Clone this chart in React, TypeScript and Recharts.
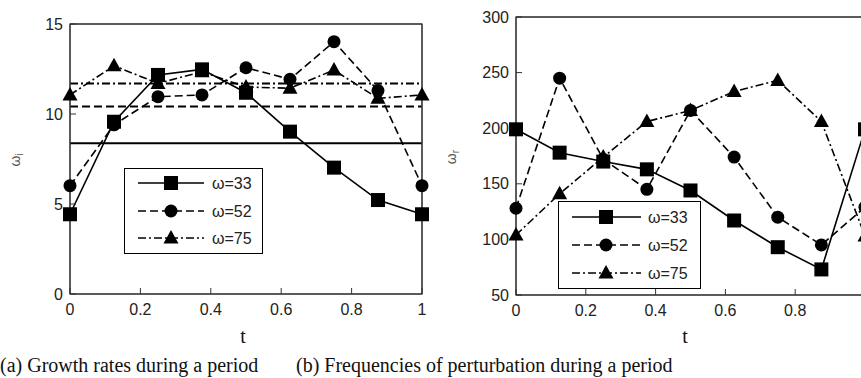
import React from 'react';
import { LineChart, Line, XAxis, YAxis, ReferenceLine, Legend } from 'recharts';

// time within one period
const tValues = [0, 0.125, 0.25, 0.375, 0.5, 0.625, 0.75, 0.875, 1];
const tTicks = [0, 0.2, 0.4, 0.6, 0.8, 1];

// (a) growth rates omega_i
const growth33 = [4.43, 9.57, 12.17, 12.48, 11.18, 9.02, 7.02, 5.22, 4.43];
const growth52 = [6.02, 9.4, 10.96, 11.06, 12.57, 11.93, 14.02, 11.3, 6.02];
const growth75 = [11.06, 12.68, 11.7, 12.35, 11.5, 11.43, 12.44, 10.87, 11.06];
const growthMeans = [8.37, 10.41, 11.7];
const growthTicks = [0, 5, 10, 15];

// (b) frequencies omega_r
const freq33 = [199, 178, 170, 163, 144, 117, 93, 73, 199];
const freq52 = [128, 245, 172, 145, 216, 174, 120, 95, 129];
const freq75 = [104, 141, 174, 206, 216, 233, 243, 206, 103];
const freqTicks = [50, 100, 150, 200, 250, 300];

const seriesNames = ['ω=33', 'ω=52', 'ω=75'];

const series = [
  { key: 's33', name: seriesNames[0], dash: undefined, shape: 'square' },
  { key: 's52', name: seriesNames[1], dash: '8 4', shape: 'circle' },
  { key: 's75', name: seriesNames[2], dash: '8 3 2 3', shape: 'triangle' },
];

const growthData = tValues.map((t, i) => ({ t, s33: growth33[i], s52: growth52[i], s75: growth75[i] }));
const freqData = tValues.map((t, i) => ({ t, s33: freq33[i], s52: freq52[i], s75: freq75[i] }));

const sansFont = 'Arial, "Liberation Sans", sans-serif';
const serifFont = '"Times New Roman", "Liberation Serif", serif';
const frame = '#333';

const Marker = ({ cx, cy, shape }: any) => {
  if (cx == null || cy == null) return null;
  if (shape === 'square') return <rect x={cx - 7} y={cy - 7} width={14} height={14} fill="#000" />;
  if (shape === 'circle') return <circle cx={cx} cy={cy} r={6.5} fill="#000" />;
  return <polygon points={`${cx},${cy - 8} ${cx - 7.5},${cy + 5.5} ${cx + 7.5},${cy + 5.5}`} fill="#000" />;
};

const LegendBox = ({ w, h, rows, x1, x2, mx, tx }: any) => (
  <svg width={w} height={h} style={{ display: 'block' }}>
    <rect x={0.5} y={0.5} width={w - 1} height={h - 1} fill="#fff" stroke="#000" />
    {series.map((s, i) => (
      <g key={s.key}>
        <line x1={x1} x2={x2} y1={rows[i]} y2={rows[i]} stroke="#000" strokeWidth={1.6} strokeDasharray={s.dash} />
        <Marker cx={mx} cy={rows[i]} shape={s.shape} />
        <text x={tx} y={rows[i]} dy="0.36em" fontFamily={sansFont} fontSize={16} fill="#222">
          {s.name}
        </text>
      </g>
    ))}
  </svg>
);

const yName = (x: number, y: number, sub: string) => () => (
  <text x={x} y={y} transform={`rotate(-90 ${x} ${y})`} textAnchor="middle" fontFamily={sansFont} fontSize={14} fill="#555">
    ω<tspan fontSize={10} dy={3}>{sub}</tspan>
  </text>
);

// x-axis title, plus the MATLAB-style box around the plot area (taken from the axis viewBox)
const xName = (x: number, y: number, plotH: number) => (props: any) => {
  const vb = props.viewBox || {};
  return (
    <g>
      {vb.width != null && (
        <rect x={vb.x} y={vb.y - plotH} width={vb.width} height={plotH} fill="none" stroke={frame} strokeWidth={1.2} />
      )}
      <text x={x} y={y} textAnchor="middle" fontFamily={serifFont} fontSize={20} fill="#111">
        t
      </text>
    </g>
  );
};

const tickStyle = { fontFamily: sansFont, fontSize: 16, fill: '#222' };

// top/right mirror axes take 2px, so margins are 2px smaller than the plot offsets
const Panel = ({ data, yTicks, yRange, plotH, yWidth, margin, height, symbol, tLabel, legend, means }: any) => (
  <LineChart width={440} height={height} data={data} margin={margin}>
    <XAxis
      dataKey="t"
      type="number"
      domain={[0, 1]}
      ticks={tTicks}
      height={height - margin.top - margin.bottom - 2 - plotH}
      tickSize={-6}
      tickMargin={16}
      tick={tickStyle}
      stroke={frame}
      label={{ content: xName(tLabel.x, tLabel.y, plotH) }}
    />
    <XAxis xAxisId="top" orientation="top" dataKey="t" type="number" domain={[0, 1]} ticks={tTicks} height={2} tickSize={-6} tick={false} stroke={frame} />
    <YAxis
      type="number"
      domain={yRange}
      ticks={yTicks}
      width={yWidth}
      tickSize={-6}
      tickMargin={13}
      tick={tickStyle}
      stroke={frame}
      label={{ content: yName(symbol.x, symbol.y, symbol.sub) }}
    />
    <YAxis yAxisId="right" orientation="right" type="number" domain={yRange} ticks={yTicks} width={2} tickSize={-6} tick={false} stroke={frame} />
    {means &&
      means.map((m: number, i: number) => (
        <ReferenceLine key={`mean-${i}`} y={m} stroke="#000" strokeWidth={2} strokeDasharray={series[i].dash} />
      ))}
    {series.map((s) => (
      <Line
        key={s.key}
        dataKey={s.key}
        name={s.name}
        type="linear"
        stroke="#000"
        strokeWidth={1.6}
        strokeDasharray={s.dash}
        dot={(p: any) => <Marker key={`${s.key}-${p.index}`} cx={p.cx} cy={p.cy} shape={s.shape} />}
        activeDot={false}
        isAnimationActive={false}
      />
    ))}
    <Legend
      layout="horizontal"
      verticalAlign="middle"
      align="center"
      wrapperStyle={{ left: legend.left, top: legend.top, width: legend.w, height: legend.h }}
      content={() => <LegendBox {...legend} />}
    />
  </LineChart>
);

const growthLegend = { left: 124, top: 168, w: 139, h: 86, rows: [15, 43, 70], x1: 14, x2: 80, mx: 47, tx: 88 };
const freqLegend = { left: 128, top: 201, w: 143, h: 88, rows: [16, 44, 72], x1: 14, x2: 83, mx: 48, tx: 90 };

export default function App() {
  return (
    <div style={{ position: 'absolute', left: 0, top: 0, width: 861, height: 378, overflow: 'hidden', background: '#fff' }}>
      <div style={{ position: 'absolute', left: 0, top: 0 }}>
        <Panel
          data={growthData}
          yTicks={growthTicks}
          yRange={[0, 15]}
          plotH={270}
          yWidth={70}
          height={350}
          margin={{ top: 22, right: 16, left: 0, bottom: 0 }}
          symbol={{ x: 20, y: 160, sub: 'i' }}
          tLabel={{ x: 243, y: 343 }}
          legend={growthLegend}
          means={growthMeans}
        />
      </div>
      <div style={{ position: 'absolute', left: 430, top: 0 }}>
        <Panel
          data={freqData}
          yTicks={freqTicks}
          yRange={[50, 300]}
          plotH={278}
          yWidth={86}
          height={350}
          margin={{ top: 15, right: 3, left: 0, bottom: 0 }}
          symbol={{ x: 26, y: 157, sub: 'r' }}
          tLabel={{ x: 255, y: 343 }}
          legend={freqLegend}
        />
      </div>
      <div style={{ position: 'absolute', left: 0, top: 355, fontFamily: serifFont, fontSize: 20, lineHeight: '20px', color: '#111', whiteSpace: 'nowrap' }}>
        (a) Growth rates during a period
      </div>
      <div style={{ position: 'absolute', left: 296, top: 355, fontFamily: serifFont, fontSize: 20, lineHeight: '20px', color: '#111', whiteSpace: 'nowrap' }}>
        (b) Frequencies of perturbation during a period
      </div>
    </div>
  );
}
